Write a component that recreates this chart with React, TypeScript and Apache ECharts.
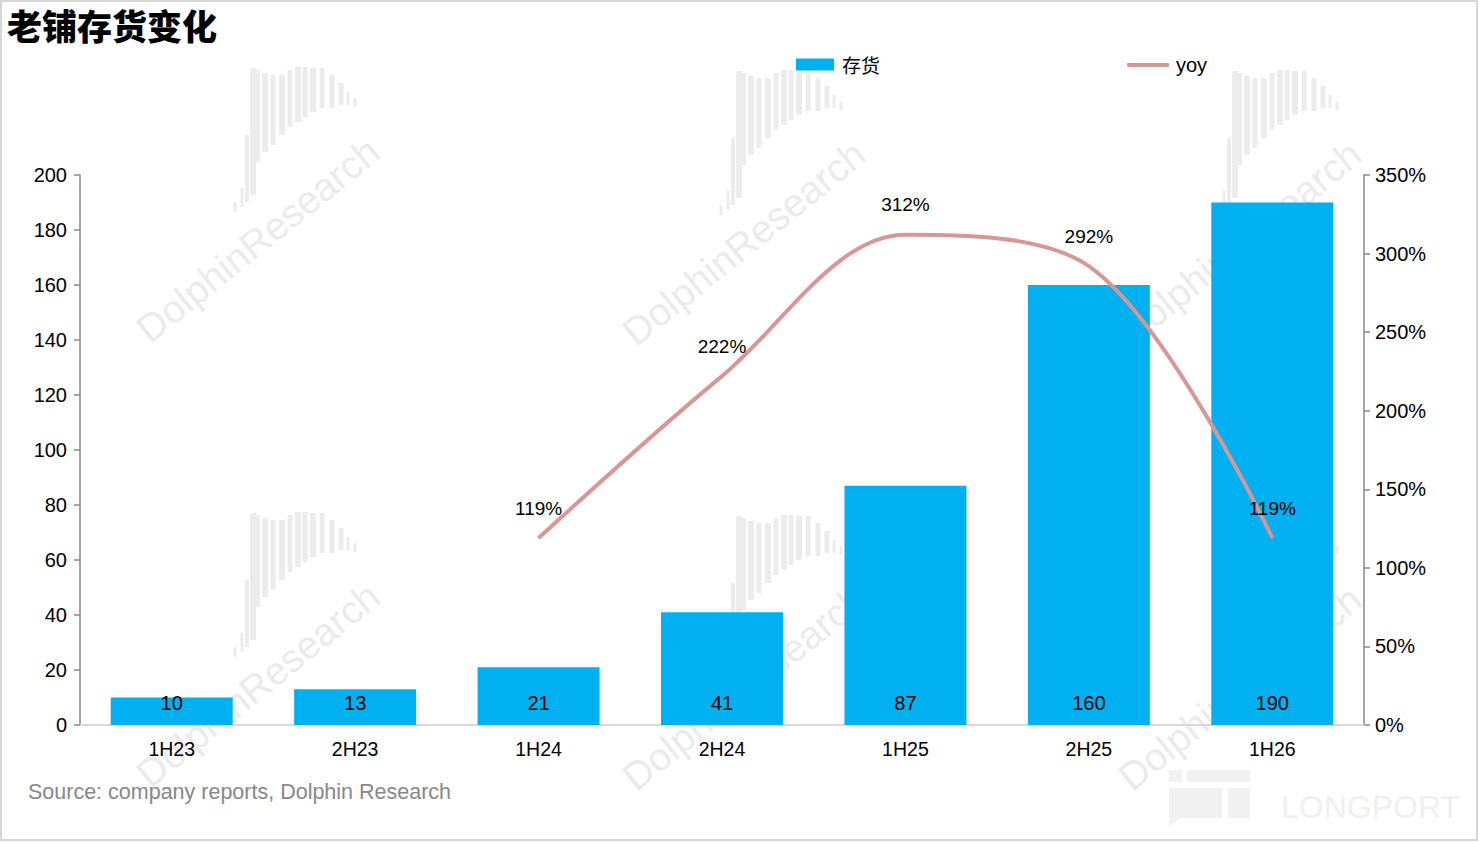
import React, { useEffect, useRef } from "react";
import * as echarts from "echarts";

const categories = ["1H23", "2H23", "1H24", "2H24", "1H25", "2H25", "1H26"];
const inventory = [10, 13, 21, 41, 87, 160, 190];
const yoy: (number | null)[] = [null, null, 119, 222, 312, 292, 119];
const leftTicks = { min: 0, max: 200, interval: 20 };
const rightTicks = { min: 0, max: 350, interval: 50 };

const FONT = "'Liberation Sans', 'Noto Sans CJK SC', sans-serif";
const CJK = "'Noto Sans CJK SC', 'Liberation Sans', sans-serif";

// watermark barcode: [dx, top, bottom, width] relative to text centre
const barcode: number[][] = [
  [-23, -38, -28, 3], [-16, -52, -33, 3], [-11, -105, -38, 4], [-5, -172, -45, 6],
  [0, -170, -78, 4], [7, -167, -88, 6], [15, -165, -95, 5], [24, -165, -105, 6],
  [32, -170, -113, 5], [40, -173, -118, 6], [47, -173, -123, 5], [55, -172, -128, 6],
  [64, -172, -132, 5], [74, -165, -132, 5], [83, -157, -135, 5], [90, -148, -135, 3],
  [97, -142, -133, 3],
];

function watermark(cx: number, cy: number) {
  const children: any[] = barcode.map((b) => ({
    type: "rect",
    shape: { x: b[0] - b[3] / 2, y: b[1], width: b[3], height: b[2] - b[1] },
    style: { fill: "#ececec" },
  }));
  children.push({
    type: "text",
    x: 0,
    y: 0,
    rotation: (39 * Math.PI) / 180,
    style: {
      text: "DolphinResearch",
      fill: "#ebebeb",
      font: `39px ${FONT}`,
      align: "center",
      verticalAlign: "middle",
    },
  });
  return { type: "group", x: cx, y: cy, z: 0, silent: true, children };
}

export default function App() {
  const ref = useRef<HTMLDivElement>(null);
  useEffect(() => {
    document.body.style.margin = "0";
    if (!ref.current) return;
    const chart = echarts.init(ref.current, null, { renderer: "svg" });
    const wmCenters = [
      [258, 240], [744, 243], [1240, 243],
      [258, 685], [744, 688], [1240, 688],
    ];
    chart.setOption({
      animation: false,
      backgroundColor: "#ffffff",
      legend: [
        {
          data: [{ name: "存货", icon: "rect" }],
          left: 791,
          top: 50,
          itemWidth: 38,
          itemHeight: 12,
          textStyle: { fontSize: 19, color: "#000", fontFamily: CJK, padding: [0, 0, 0, 3] },
        },
        {
          data: [{ name: "yoy", icon: "roundRect" }],
          left: 1122,
          top: 50,
          itemWidth: 42,
          itemHeight: 4,
          textStyle: { fontSize: 20, color: "#000", fontFamily: FONT, padding: [0, 0, 0, 2] },
        },
      ],
      grid: { left: 80, right: 115, top: 175, bottom: 117, containLabel: false },
      xAxis: {
        type: "category",
        data: categories,
        axisLine: { lineStyle: { color: "#d9d9d9", width: 2 } },
        axisTick: { show: false },
        axisLabel: { fontSize: 19.5, color: "#000", fontFamily: FONT, margin: 14 },
      },
      yAxis: [
        {
          type: "value",
          ...leftTicks,
          position: "left",
          axisLine: { show: true, lineStyle: { color: "#888", width: 1.5 } },
          axisTick: { show: true, length: 6, lineStyle: { color: "#888", width: 1.5 } },
          splitLine: { show: false },
          axisLabel: { fontSize: 20, color: "#000", fontFamily: FONT, margin: 13 },
        },
        {
          type: "value",
          ...rightTicks,
          position: "right",
          axisLine: { show: true, lineStyle: { color: "#888", width: 1.5 } },
          axisTick: { show: true, length: 6, lineStyle: { color: "#888", width: 1.5 } },
          splitLine: { show: false },
          axisLabel: {
            fontSize: 20,
            color: "#000",
            fontFamily: FONT,
            margin: 11,
            formatter: (v: number) => `${v}%`,
          },
        },
      ],
      series: [
        {
          name: "存货",
          type: "bar",
          data: inventory,
          barWidth: "66.5%",
          itemStyle: { color: "#00B0F0" },
          z: 3,
          label: {
            show: true,
            position: "insideBottom",
            distance: 12,
            fontSize: 20,
            color: "#000",
            fontFamily: FONT,
          },
        },
        {
          name: "yoy",
          type: "line",
          yAxisIndex: 1,
          data: yoy,
          smooth: 0.34,
          symbol: "circle",
          symbolSize: 1,
          showSymbol: true,
          z: 4,
          itemStyle: { color: "#D99694" },
          lineStyle: { color: "#D99694", width: 4 },
          label: {
            show: true,
            position: "top",
            distance: 20,
            fontSize: 19,
            color: "#000",
            fontFamily: FONT,
            formatter: (p: any) => `${p.value}%`,
          },
        },
      ],
      graphic: [
        ...wmCenters.map((c) => watermark(c[0], c[1])),
        {
          type: "group",
          silent: true,
          z: 0,
          children: [
            { type: "rect", shape: { x: 1169, y: 770, width: 13, height: 12 }, style: { fill: "#f1f1f1" } },
            { type: "rect", shape: { x: 1187, y: 770, width: 63, height: 12 }, style: { fill: "#f1f1f1" } },
            {
              type: "polygon",
              shape: { points: [[1169, 788], [1222, 788], [1222, 818], [1180, 818], [1169, 827]] },
              style: { fill: "#f1f1f1" },
            },
            { type: "rect", shape: { x: 1228, y: 788, width: 22, height: 30 }, style: { fill: "#f1f1f1" } },
            {
              type: "text",
              x: 1281,
              y: 807,
              style: {
                text: "LONGPORT",
                fill: "#f0f0f0",
                font: `32px ${FONT}`,
                align: "left",
                verticalAlign: "middle",
              },
            },
          ],
        },
        {
          type: "text",
          x: 7,
          y: 24,
          z: 10,
          style: {
            text: "老铺存货变化",
            fill: "#000",
            font: `900 35px ${CJK}`,
            align: "left",
            verticalAlign: "middle",
          },
        },
        {
          type: "text",
          left: 28,
          top: 781,
          z: 10,
          style: {
            text: "Source: company reports, Dolphin Research",
            fill: "#888888",
            font: `21.5px ${FONT}`,
          },
        },
        {
          type: "rect",
          z: 10,
          silent: true,
          shape: { x: 1, y: 1, width: 1476, height: 839 },
          style: { fill: "none", stroke: "#d6d6d6", lineWidth: 2 },
        },
      ],
    });
    return () => chart.dispose();
  }, []);
  return <div ref={ref} style={{ width: 1479, height: 842 }} />;
}
